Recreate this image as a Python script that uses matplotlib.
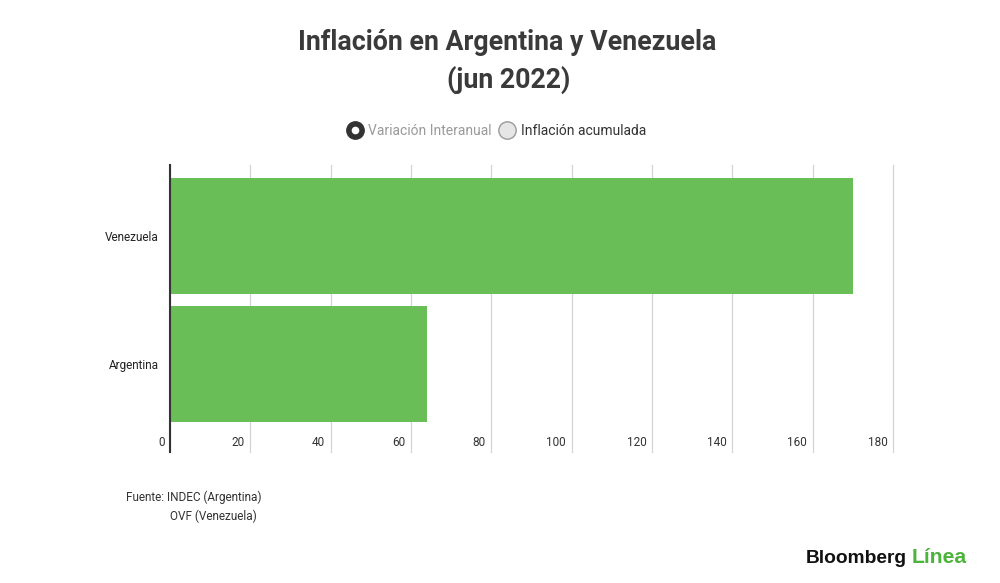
import matplotlib.pyplot as plt
from matplotlib.lines import Line2D
from matplotlib.legend_handler import HandlerTuple

plt.rcParams['font.family'] = ['Roboto', 'DejaVu Sans']

# data
paises = ['Argentina', 'Venezuela']
variacion = [64.0, 170.1]
ticks_x = [0, 20, 40, 60, 80, 100, 120, 140, 160, 180]

verde = '#6abe57'

fig = plt.figure(figsize=(10, 5.83), dpi=100)
ax = fig.add_axes([0.17, 0.2247, 0.723, 0.4923])

ax.barh(range(len(paises)), variacion, height=0.9, color=verde, zorder=2)
ax.set_xlim(0, 180)
ax.set_ylim(-0.687, 1.554)

# grid
ax.set_xticks(ticks_x)
ax.xaxis.grid(True, color='#d4d4d4', linewidth=0.9, zorder=0)
for g in ax.xaxis.get_gridlines():
    g.set_clip_on(False)
ax.tick_params(axis='x', length=0, labelbottom=False)
for t in ticks_x:
    ax.annotate(str(t), xy=(t, 0), xycoords=('data', 'axes fraction'),
                xytext=(-4, 7), textcoords='offset points', ha='right', va='center',
                fontsize=8.5, color='#333333')

ax.set_yticks(range(len(paises)))
ax.set_yticklabels(paises, fontsize=8.5, color='#222222')
ax.tick_params(axis='y', length=0, pad=8)

for s in ['top', 'right', 'bottom']:
    ax.spines[s].set_visible(False)
ax.spines['left'].set_color('#333333')
ax.spines['left'].set_linewidth(1.5)
ax.spines['left'].set_zorder(3)

# title
fig.text(0.507, 1 - 42 / 583, 'Inflación en Argentina y Venezuela', ha='center', va='center',
         fontsize=19.3, fontweight='bold', color='#3a3a3a')
fig.text(0.509, 1 - 80 / 583, '(jun 2022)', ha='center', va='center',
         fontsize=19.3, fontweight='bold', color='#3a3a3a')

# legend (radio buttons)
sel_out = Line2D([], [], marker='o', linestyle='none', markersize=12.5,
                 markerfacecolor='#333333', markeredgecolor='#333333')
sel_in = Line2D([], [], marker='o', linestyle='none', markersize=4.5,
                markerfacecolor='white', markeredgecolor='white')
nosel = Line2D([], [], marker='o', linestyle='none', markersize=12.5,
               markerfacecolor='#e6e6e6', markeredgecolor='#9a9a9a', markeredgewidth=1)
leg = fig.legend([(sel_out, sel_in), nosel], ['Variación Interanual', 'Inflación acumulada'],
                 handler_map={tuple: HandlerTuple(ndivide=1)},
                 loc='center', bbox_to_anchor=(0.497, 1 - 131 / 583), ncol=2, frameon=False,
                 fontsize=10, handlelength=1.0, handletextpad=0.5, columnspacing=0.6)
leg.get_texts()[0].set_color('#9a9a9a')
leg.get_texts()[1].set_color('#333333')

# fuente
fig.text(0.126, 1 - 497 / 583, 'Fuente: INDEC (Argentina)', ha='left', va='center',
         fontsize=8.5, color='#333333')
fig.text(0.170, 1 - 516 / 583, 'OVF (Venezuela)', ha='left', va='center',
         fontsize=8.5, color='#333333')

# logo
fig.text(0.907, 1 - 563 / 583, 'Bloomberg', ha='right', va='baseline',
         fontsize=13.8, fontweight='heavy', color='#111111', family=['Liberation Sans', 'DejaVu Sans'])
fig.text(0.912, 1 - 563 / 583, 'Línea', ha='left', va='baseline',
         fontsize=15.2, fontweight='heavy', color='#4cb43a', family=['Liberation Sans', 'DejaVu Sans'])

fig.savefig('out.png', dpi=100, facecolor='white')
